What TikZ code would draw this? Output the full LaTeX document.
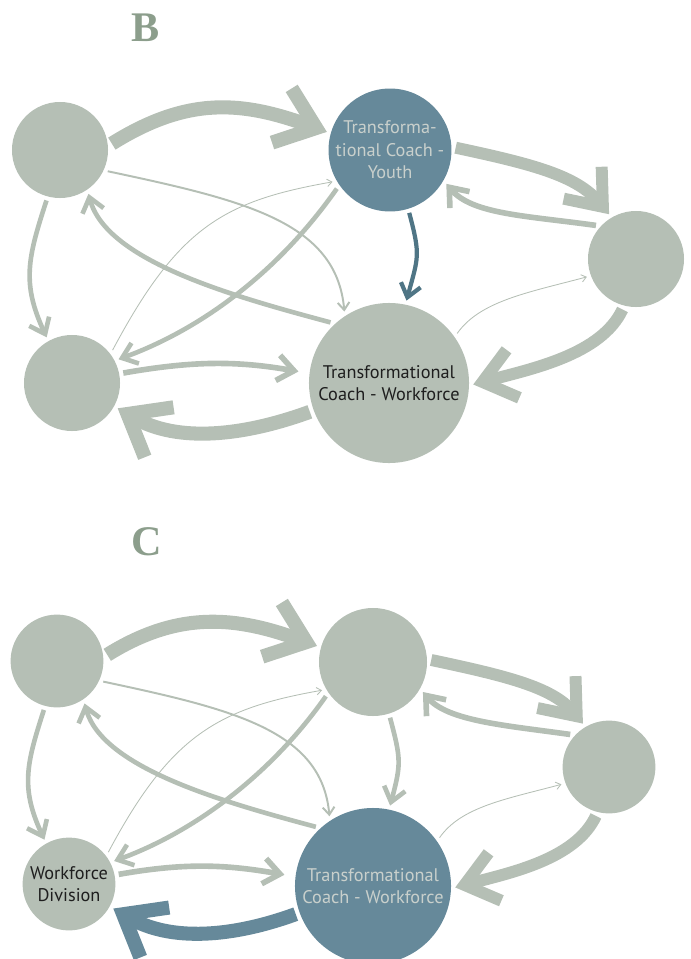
\documentclass[tikz,border=0pt]{standalone}
\usepackage{fontspec}
\setmainfont{Liberation Serif}
\newfontfamily\labelfont{PT Sans}
\usetikzlibrary{arrows.meta}
\definecolor{Sage}{HTML}{B5BFB5}
\definecolor{Slate}{HTML}{66899A}
\definecolor{SlateDark}{HTML}{4F7585}
\definecolor{Mist}{HTML}{C9D0CC}
\definecolor{Ink}{HTML}{1E1E1E}
\definecolor{Letter}{HTML}{8C9E8C}
\tikzset{
  actor/.style={circle, fill=Sage, inner sep=0pt, outer sep=3pt, align=center,
    font=\labelfont\fontsize{13}{16}\selectfont, text=Ink},
  focus/.style={actor, fill=Slate, text=Mist},
  panel/.style={font=\bfseries\fontsize{30}{30}\selectfont, text=Letter},
  link/.style={draw=Sage, -{Straight Barb[sharp, length=2pt 2.4, width=3pt 3.8]}},
  heavylink/.style={link, line width=10pt},
  boldlink/.style={link, line width=8.5pt},
  midlink/.style={link, line width=4pt},
  lightlink/.style={link, line width=3.3pt},
  finelink/.style={link, line width=1.4pt},
  hairlink/.style={link, line width=0.6pt},
}

\begin{document}
\begin{tikzpicture}[x=0.025cm, y=0.025cm]
  \useasboundingbox (0,0) rectangle (690,-959);

  % Panel B
  \node[panel] (labB) at (146,-28) {B};
  \node[actor, minimum size=2.4cm] (bTL) at (60,-150) {};
  \node[focus, minimum size=2.85cm] (bY) at (390,-150) {Transforma-\\tional Coach -\\Youth};
  \node[actor, minimum size=2.4cm] (bR) at (636,-259) {};
  \node[actor, minimum size=2.4cm] (bBL) at (72,-383) {};
  \node[actor, minimum size=4.0cm] (bW) at (389,-383) {Transformational\\Coach - Workforce};

  \draw[heavylink] (bTL.7) .. controls +(32:90) and +(160:90) .. (bY.164);
  \draw[boldlink] (bY.2) .. controls +(-12:80) and +(130:50) .. (bR.121);
  \draw[midlink] (bR.140) .. controls +(172:70) and +(-50:40) .. (bY.-31);
  \draw[link, draw=SlateDark, line width=3pt] (bY.-73) .. controls +(-75:45) and +(75:45) .. (bW.78);
  \draw[boldlink] (bR.-105) .. controls +(-115:50) and +(15:60) .. (bW.-1);
  \draw[heavylink] (bW.200) .. controls +(200:70) and +(-30:70) .. (bBL.-29);
  \draw[midlink, shorten >=5pt] (bBL.11) .. controls +(10:70) and +(170:70) .. (bW.173);
  \draw[lightlink] (bTL.-105) .. controls +(-108:60) and +(115:60) .. (bBL.119);
  \draw[lightlink] (bW.134) .. controls +(165:100) and +(-75:70) .. (bTL.-57);
  \draw[lightlink] (bY.216) .. controls +(235:100) and +(20:90) .. (bBL.27);
  \draw[hairlink] (bBL.39) .. controls +(62:140) and +(190:110) .. (bY.209);
  \draw[finelink] (bTL.-24) .. controls +(-12:140) and +(95:90) .. (bW.122);
  \draw[hairlink] (bW.36) .. controls +(55:40) and +(195:60) .. (bR.200);

  % Panel C
  \node[panel] (labC) at (147,-542) {C};
  \node[actor, minimum size=2.32cm] (cTL) at (57,-661) {};
  \node[actor, minimum size=2.7cm] (cT) at (373,-662) {};
  \node[actor, minimum size=2.32cm] (cR) at (609,-767) {};
  \node[actor, minimum size=2.32cm] (cBL) at (69,-884) {Workforce\\Division};
  \node[focus, minimum size=3.9cm] (cW) at (373,-886) {Transformational\\Coach - Workforce};

  \draw[heavylink] (cTL.7) .. controls +(32:85) and +(160:85) .. (cT.164);
  \draw[boldlink] (cT.2) .. controls +(-12:75) and +(130:48) .. (cR.121);
  \draw[midlink] (cR.140) .. controls +(172:66) and +(-50:38) .. (cT.-31);
  \draw[lightlink] (cT.-73) .. controls +(-75:43) and +(75:43) .. (cW.78);
  \draw[boldlink] (cR.-105) .. controls +(-115:48) and +(15:57) .. (cW.-1);
  \draw[heavylink, draw=Slate] (cW.200) .. controls +(200:67) and +(-30:67) .. (cBL.-29);
  \draw[midlink, shorten >=5pt] (cBL.11) .. controls +(10:67) and +(170:67) .. (cW.173);
  \draw[lightlink] (cTL.-105) .. controls +(-108:57) and +(115:57) .. (cBL.119);
  \draw[lightlink] (cW.134) .. controls +(165:95) and +(-75:67) .. (cTL.-57);
  \draw[lightlink] (cT.216) .. controls +(235:95) and +(20:86) .. (cBL.27);
  \draw[hairlink] (cBL.39) .. controls +(62:133) and +(190:105) .. (cT.209);
  \draw[finelink] (cTL.-24) .. controls +(-12:133) and +(95:86) .. (cW.122);
  \draw[hairlink] (cW.36) .. controls +(55:38) and +(195:57) .. (cR.200);
\end{tikzpicture}
\end{document}
